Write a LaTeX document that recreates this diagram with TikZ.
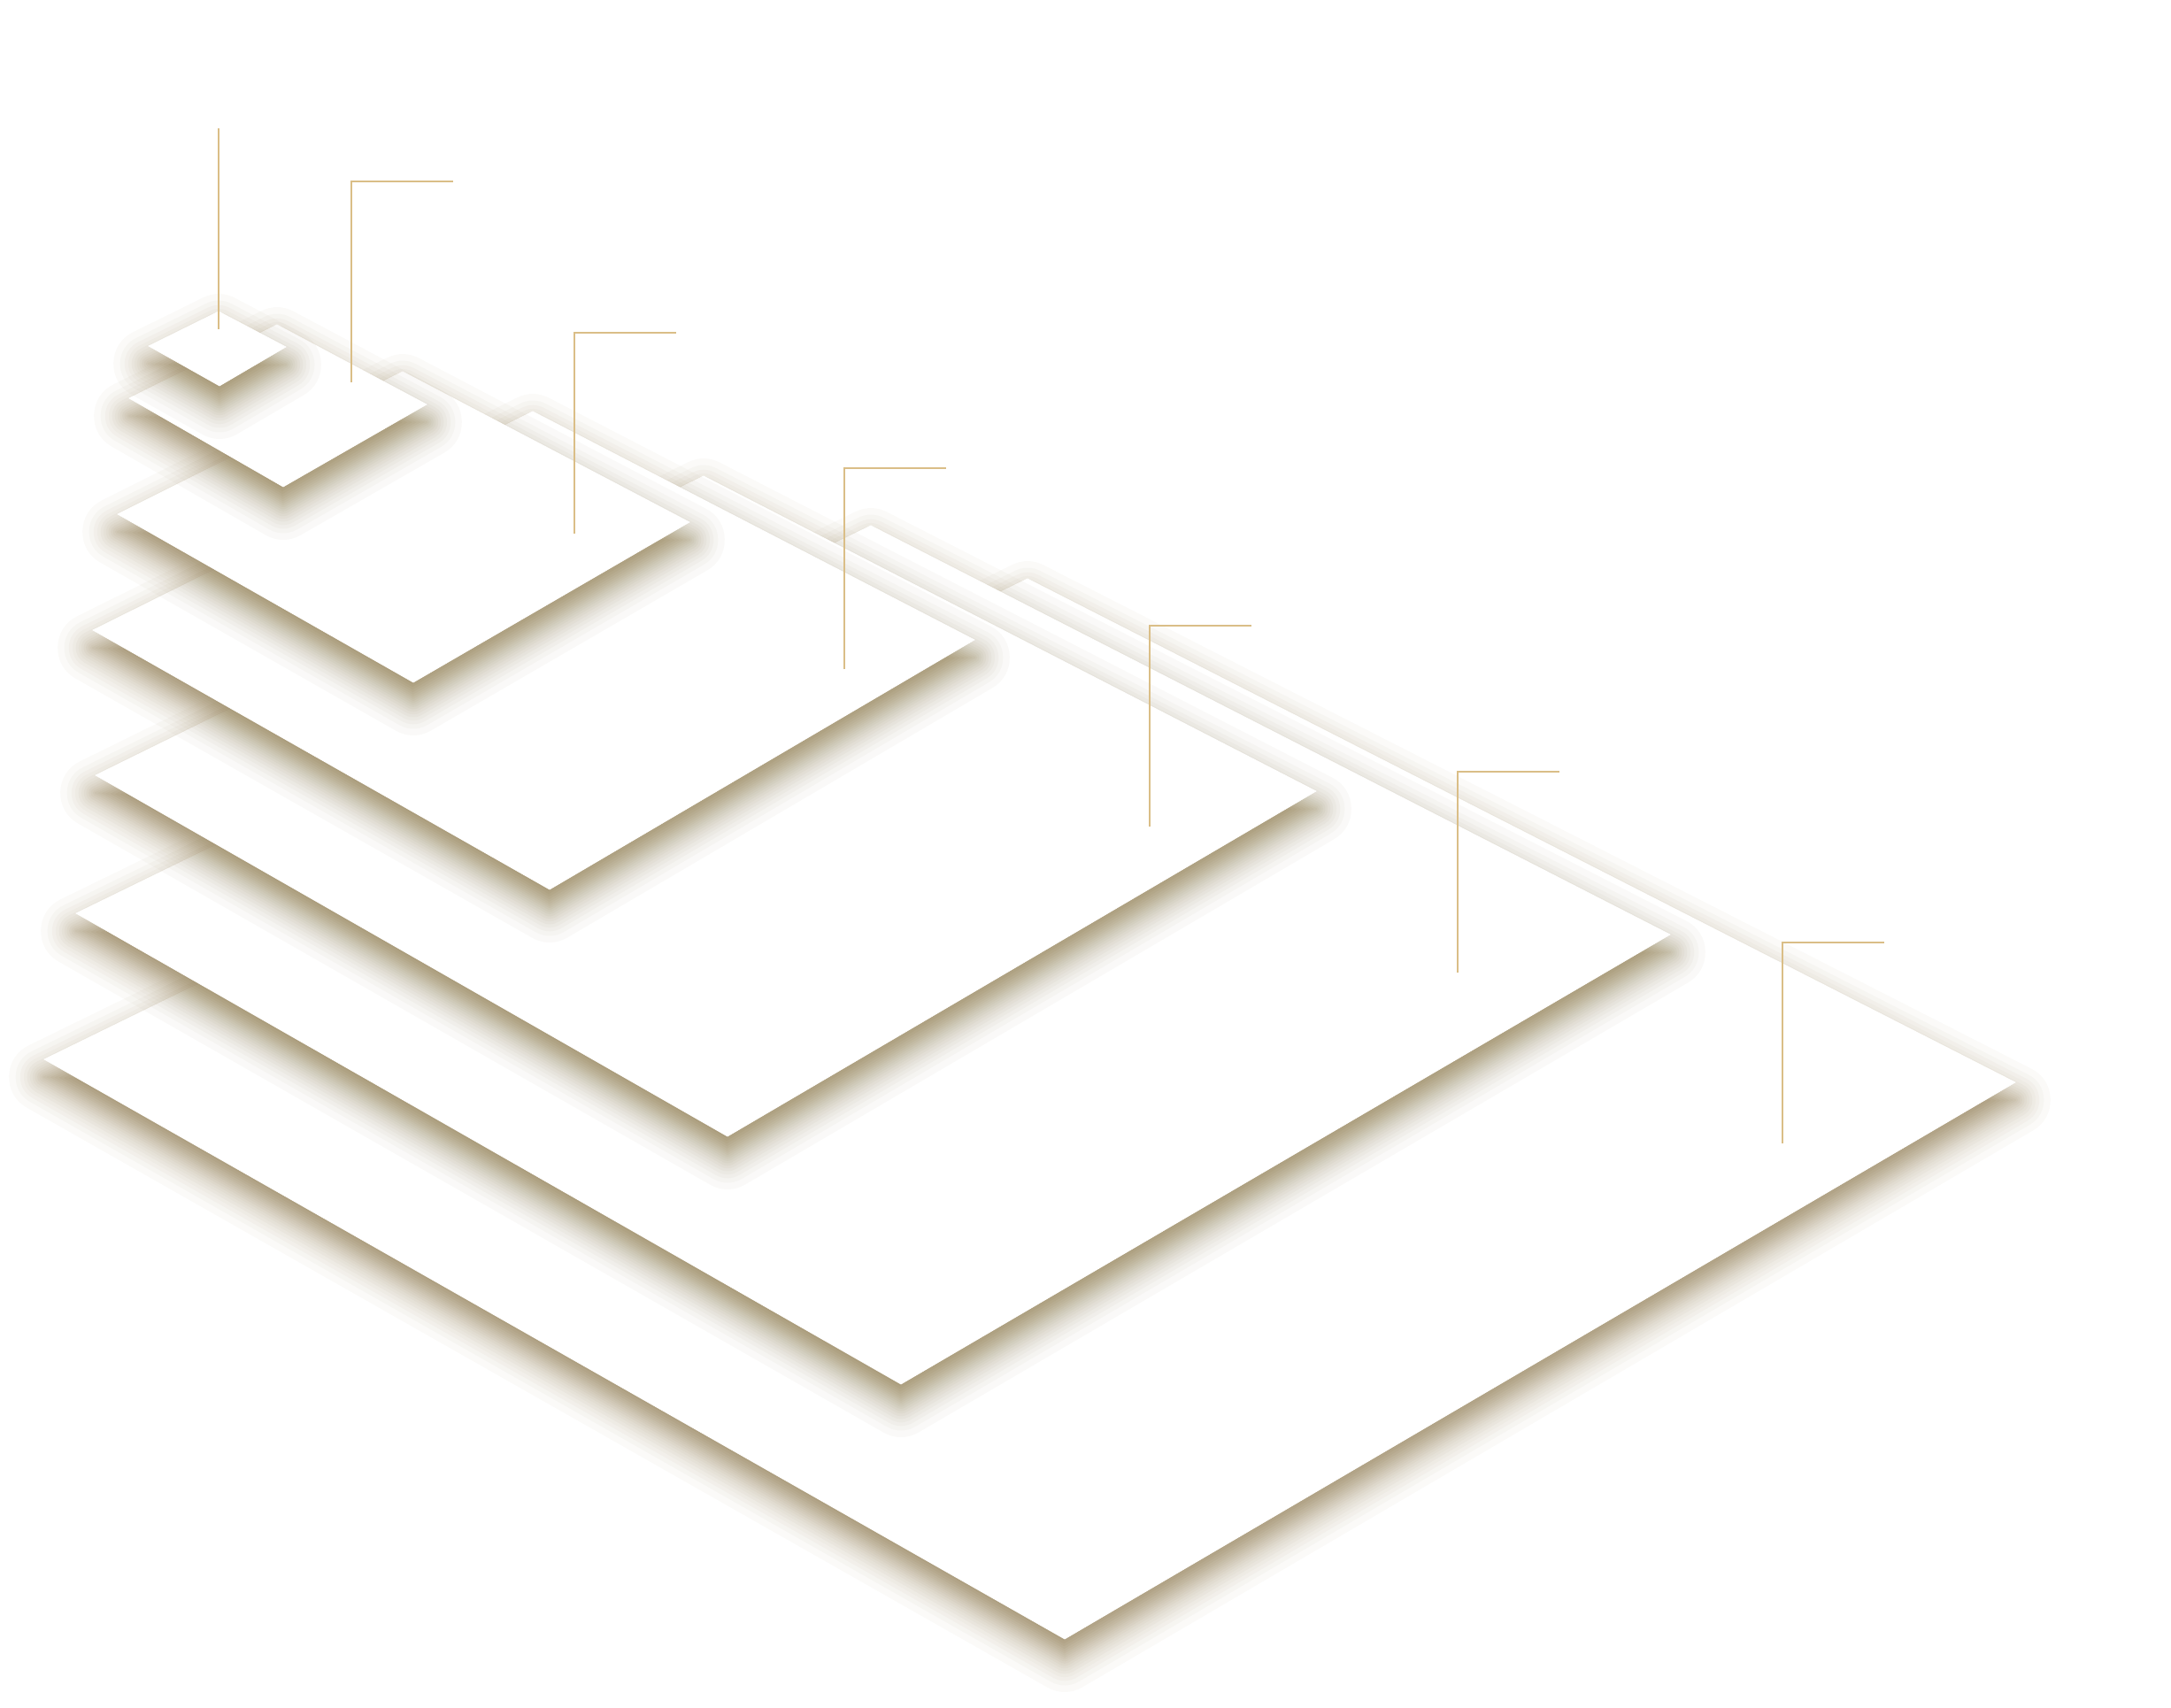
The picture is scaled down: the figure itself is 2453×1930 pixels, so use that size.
\documentclass[tikz,border=0pt]{standalone}
\usepackage{tikz}
\usetikzlibrary{calc}

\definecolor{leadergold}{RGB}{218,190,135}
\definecolor{shadowtan}{RGB}{152,134,96}

\begin{document}
\begin{tikzpicture}[
        x=0.01cm, y=-0.01cm,
        plane/.style={fill=white, draw=white, line width=0.2pt},
        shadowlayer/.style={fill=shadowtan, line join=round, yshift=-0.2cm},
        leader/.style={draw=leadergold, line width=0.5pt}
    ]
        % Canvas
        \useasboundingbox (0,0) rectangle (2453,1930);

        % Planes, bottom one first (corners: left, top, right, bottom)
        \foreach \p/\lx/\ly/\tx/\ty/\rx/\ry/\bx/\by in {
            7/50/1197/1161/654/2277/1223/1203/1852,
            6/86/1032/984/594/1887/1056/1018/1564,
            5/108/876/795/538/1487/894/822/1284,
            4/105/712/602/465/1101/723/621/1005,
            3/133/581/455/420/779/590/467/771,
            2/146/450/313/367/482/457/320/550,
            1/168/391/247/352/323/392/248/436}{
            % soft shadow: 24 grown or shrunk copies, outer ones first
            \pgfmathsetmacro\h{0.2407*(\rx-\lx)}
            \pgfmathsetmacro\cx{(\lx+\rx)/2}
            \pgfmathsetmacro\cy{(\ty+\by)/2}
            \foreach \k in {1,...,24}{
                \pgfmathsetmacro\pk{1-(\k-0.5)/24}
                \pgfmathsetmacro\ok{\pk>0.5 ? 50-50*sqrt(2*(1-\pk)) : -50+50*sqrt(2*\pk)}
                \pgfmathsetmacro\ak{1/(25-\k)}
                \begin{scope}[transparency group, opacity=\ak]
                \ifdim\ok pt>0pt
                    \pgfmathsetmacro\wk{0.02*\ok}
                    \path[shadowlayer, draw=shadowtan, line width=\wk cm]
                        (\lx,\ly) -- (\tx,\ty) -- (\rx,\ry) -- (\bx,\by) -- cycle;
                \else
                    \pgfmathsetmacro\sk{max(0,1+\ok/\h)}
                    \path[shadowlayer]
                        ({\cx+\sk*(\lx-\cx)},{\cy+\sk*(\ly-\cy)}) --
                        ({\cx+\sk*(\tx-\cx)},{\cy+\sk*(\ty-\cy)}) --
                        ({\cx+\sk*(\rx-\cx)},{\cy+\sk*(\ry-\cy)}) --
                        ({\cx+\sk*(\bx-\cx)},{\cy+\sk*(\by-\cy)}) -- cycle;
                \fi
                \end{scope}
            }
            \coordinate (p\p-l) at (\lx,\ly);
            \coordinate (p\p-t) at (\tx,\ty);
            \coordinate (p\p-r) at (\rx,\ry);
            \coordinate (p\p-b) at (\bx,\by);
            \path[plane] (p\p-l) -- (p\p-t) -- (p\p-r) -- (p\p-b) -- cycle;
        }

        % Leader lines
        \coordinate (lead1-c) at (247,145);
        \coordinate (lead1-f) at (247,372);
        \draw[leader] (lead1-c) -- (lead1-f);
        \foreach \i/\cx/\cy in {2/397/205, 3/649/376, 4/954/529, 5/1299/707, 6/1647/872, 7/2014/1065}{
            \coordinate (lead\i-c) at (\cx,\cy);
            \coordinate (lead\i-f) at ($(lead\i-c)+(0,227)$);
            \coordinate (lead\i-e) at ($(lead\i-c)+(115,0)$);
            \draw[leader] (lead\i-f) -- (lead\i-c) -- (lead\i-e);
        }
    \end{tikzpicture}
\end{document}
